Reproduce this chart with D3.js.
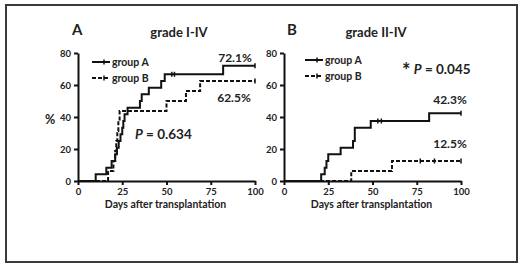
<!DOCTYPE html>
<html>
<head>
<meta charset="utf-8">
<script src="https://cdn.jsdelivr.net/npm/d3@7"></script>
<style>
  body { margin: 0; background: #fff; }
  svg text { font-family: Lato, "Open Sans", sans-serif; font-weight: bold; fill: #222; }
</style>
</head>
<body>
<script>
    // tick labels
    var dayTicks = [0, 25, 50, 75, 100];
    var pctTicks = [0, 20, 40, 60, 80];

    // panel A (grade I-IV): event days and cumulative incidence (%)
    var aGroupADays   = [0, 10, 16, 19, 21, 22, 23, 24, 25, 25.6, 26.3, 28, 35, 36, 40, 47, 49, 82, 100];
    var aGroupAValues = [0, 4.2, 8.3, 12.5, 16.7, 20.8, 25, 29.2, 33.3, 37.5, 41.7, 45.8, 50, 54.2, 58.3, 62.5, 66.7, 72.1, 72.1];
    var aGroupBDays   = [0, 17, 20, 21, 21.6, 22.2, 22.8, 23.5, 50, 61, 69, 100];
    var aGroupBValues = [0, 6.25, 12.5, 18.75, 25, 31.25, 37.5, 43.75, 50, 56.25, 62.5, 62.5];
    var aCensorA = [53, 54.5, 100];
    var aCensorB = [100];

    // panel B (grade II-IV)
    var bGroupADays   = [0, 21, 23, 24, 25, 32, 39, 40, 49, 82, 100];
    var bGroupAValues = [0, 4.2, 8.3, 12.5, 16.7, 20.8, 25, 33.3, 37.5, 42.3, 42.3];
    var bGroupBDays   = [0, 38, 61, 100];
    var bGroupBValues = [0, 6.25, 12.5, 12.5];
    var bCensorA = [53, 55, 100];
    var bCensorB = [77, 85, 100];

    var svg = d3.select("body").append("svg")
        .attr("width", 520)
        .attr("height", 266);

    svg.append("rect")
        .attr("x", 6).attr("y", 5)
        .attr("width", 511).attr("height", 257)
        .style("fill", "#fff")
        .style("stroke", "#3a3a3a")
        .style("stroke-width", 2);

    function zip(days, vals) {
        return days.map(function (d, i) { return {day: d, pct: vals[i]}; });
    }

    function drawPanel(opt) {
        var width = 177, height = 128;
        var g = svg.append("g")
            .attr("transform", "translate(" + opt.left + ",53)");

        var x = d3.scaleLinear().domain([0, 100]).range([0, width]);
        var y = d3.scaleLinear().domain([0, 80]).range([height, 0]);

        var line = d3.line()
            .curve(d3.curveStepAfter)
            .x(function (d) { return x(d.day); })
            .y(function (d) { return y(d.pct); });

        // curves
        [[opt.a, null, opt.censorA], [opt.b, "4,2", opt.censorB]].forEach(function (s) {
            var data = s[0];
            g.append("path")
                .datum(data)
                .attr("d", line)
                .style("fill", "none")
                .style("stroke", "#111")
                .style("stroke-width", 2)
                .style("stroke-dasharray", s[1]);
            // censor marks
            s[2].forEach(function (c) {
                var v = 0;
                data.forEach(function (d) { if (d.day <= c) v = d.pct; });
                g.append("line")
                    .attr("x1", x(c)).attr("x2", x(c))
                    .attr("y1", y(v) - 2.5).attr("y2", y(v) + 2.5)
                    .style("stroke", "#111")
                    .style("stroke-width", 1.5);
            });
        });

        // axes
        var xAxis = g.append("g")
            .attr("transform", "translate(0," + height + ")")
            .call(d3.axisBottom(x).tickValues(dayTicks).tickSize(4).tickSizeOuter(0));
        var yAxis = g.append("g")
            .call(d3.axisLeft(y).tickValues(pctTicks).tickSize(4).tickSizeOuter(0));
        [xAxis, yAxis].forEach(function (ax) {
            ax.selectAll("path, line").style("stroke", "#111").style("stroke-width", 2);
            ax.selectAll("text")
                .style("font-family", "Lato, sans-serif")
                .style("font-weight", "bold")
                .style("font-size", "9.5px")
                .style("fill", "#222");
        });

        g.append("text")
            .attr("x", width / 2 - 1)
            .attr("y", 155)
            .attr("text-anchor", "middle")
            .style("font-size", "10.5px")
            .text("Days after transplantation");

        // y label (panel A only)
        if (opt.yLabel) {
            g.append("text")
                .attr("x", -28)
                .attr("y", 71)
                .attr("text-anchor", "middle")
                .style("font-size", "12.5px")
                .text(opt.yLabel);
        }

        // panel letter and title
        g.append("text")
            .attr("x", opt.letterX)
            .attr("y", -18)
            .style("font-size", "15px")
            .text(opt.letter);
        g.append("text")
            .attr("x", opt.titleX)
            .attr("y", -16)
            .attr("text-anchor", "middle")
            .style("font-size", "13px")
            .text(opt.title);

        // legend
        [["group A", null, 7], ["group B", "4,2", 23]].forEach(function (l) {
            var lx = opt.legendX, ly = l[2] + opt.legendDy;
            g.append("line")
                .attr("x1", lx).attr("x2", lx + 18)
                .attr("y1", ly).attr("y2", ly)
                .style("stroke", "#111").style("stroke-width", 2)
                .style("stroke-dasharray", l[1]);
            g.append("line")
                .attr("x1", lx + 12).attr("x2", lx + 12)
                .attr("y1", ly - 2.5).attr("y2", ly + 2.5)
                .style("stroke", "#111").style("stroke-width", 1.5);
            g.append("text")
                .attr("x", lx + 20)
                .attr("y", ly + 4)
                .style("font-size", "10.5px")
                .text(l[0]);
        });

        // annotations
        opt.notes.forEach(function (n) {
            var t = g.append("text")
                .attr("x", n.x)
                .attr("y", n.y)
                .attr("text-anchor", n.anchor || "middle")
                .style("font-size", n.size + "px");
            if (n.p) {
                if (n.star) {
                    t.append("tspan").style("font-size", "20px")
                        .attr("dy", 4).text("*");
                    t.append("tspan").attr("dy", -4).text(" ");
                }
                t.append("tspan").style("font-style", "italic").text("P");
                t.append("tspan").text(" = " + n.p);
            } else {
                t.text(n.text);
            }
        });

        return g;
    }

    drawPanel({
        left: 78, letter: "A", letterX: -6, title: "grade I-IV", titleX: 101,
        legendX: 14, legendDy: 2, yLabel: "%",
        a: zip(aGroupADays, aGroupAValues), b: zip(aGroupBDays, aGroupBValues),
        censorA: aCensorA, censorB: aCensorB,
        notes: [
            {text: "72.1%", x: 157, y: 9, size: 12},
            {text: "62.5%", x: 156, y: 49, size: 12},
            {p: "0.634", x: 57, y: 86, size: 13.5, anchor: "start"}
        ]
    });

    drawPanel({
        left: 284, letter: "B", letterX: 3, title: "grade II-IV", titleX: 92,
        legendX: 21, legendDy: 0,
        a: zip(bGroupADays, bGroupAValues), b: zip(bGroupBDays, bGroupBValues),
        censorA: bCensorA, censorB: bCensorB,
        notes: [
            {star: true, p: "0.045", x: 118, y: 21, size: 13.5, anchor: "start"},
            {text: "42.3%", x: 166, y: 51, size: 12},
            {text: "12.5%", x: 166, y: 95, size: 12}
        ]
    });
</script>
</body>
</html>
